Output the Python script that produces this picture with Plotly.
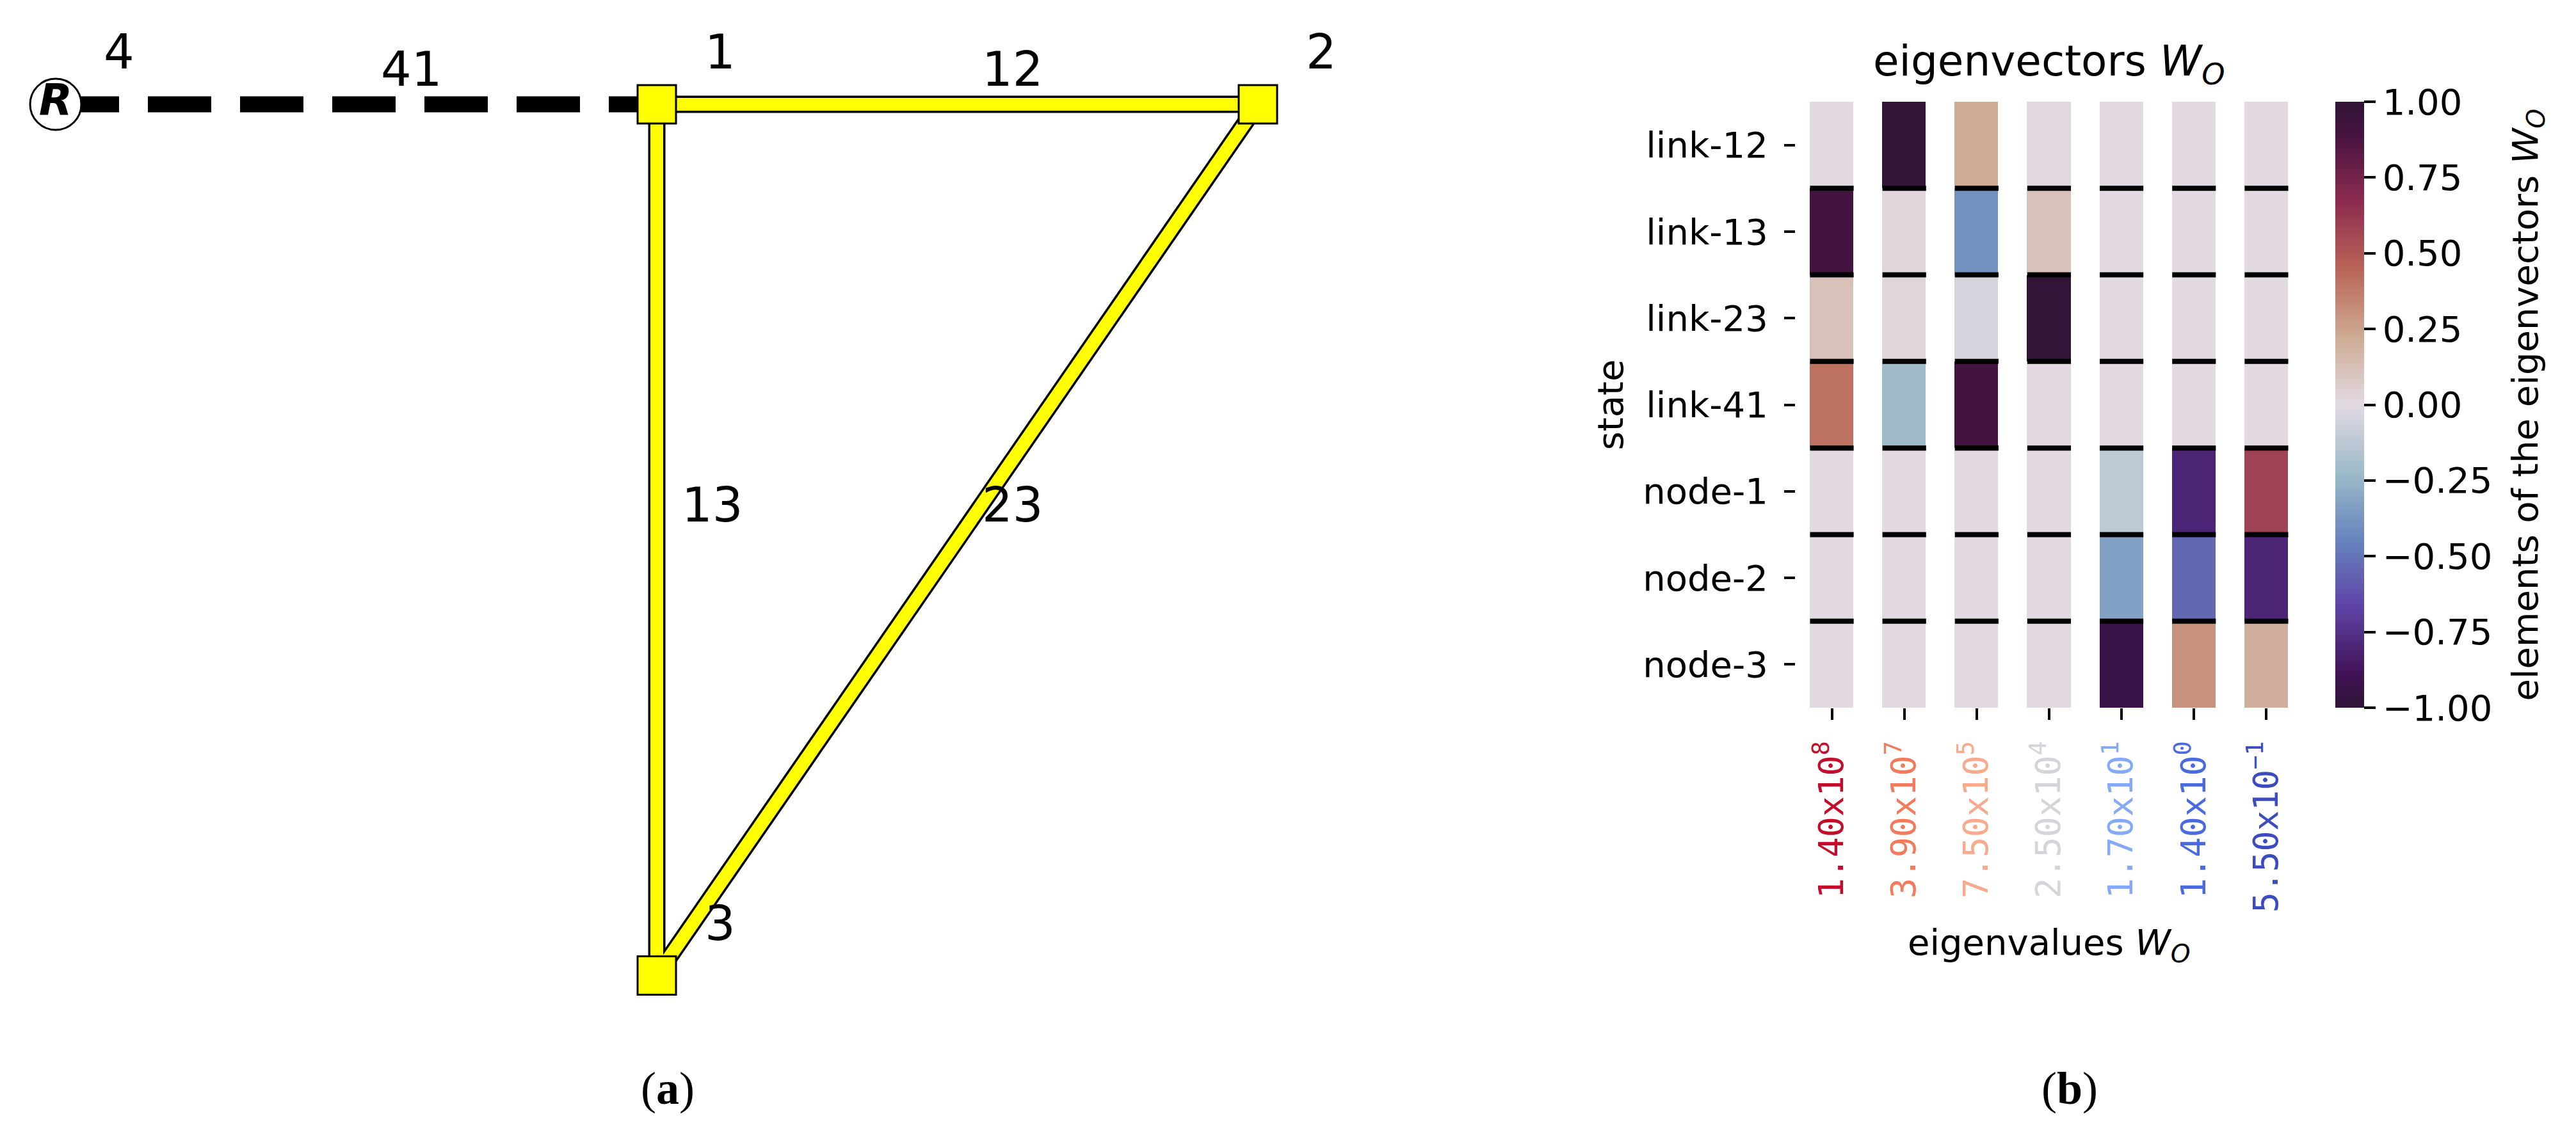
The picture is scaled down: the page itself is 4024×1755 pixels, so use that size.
import plotly.graph_objects as go


#%% Data

# (a) network: node ids with their layout coordinates and the links between them
node_names = ['4', '1', '2', '3']
node_x = [-1.0, 0.0, 1.0, 0.0]
node_y = [0.0, 0.0, 0.0, -1.45]
reference_node = '4'
link_pairs = [('4', '1'), ('1', '2'), ('1', '3'), ('2', '3')]
link_names = ['41', '12', '13', '23']

# (b) eigenvectors of W_O: rows are states, columns are eigenvalues
states = ['link-12', 'link-13', 'link-23', 'link-41', 'node-1', 'node-2', 'node-3']
eigenvalue_text = ['1.40x10<sup>8</sup>', '3.90x10<sup>7</sup>', '7.50x10<sup>5</sup>',
                   '2.50x10<sup>4</sup>', '1.70x10<sup>1</sup>', '1.40x10<sup>0</sup>',
                   '5.50x10<sup>\u22121</sup>']
eigenvalue_colors = ['#c40d2b', '#f27b5b', '#f8aa8c', '#d3d5db', '#84a9f7', '#4a6ae0', '#3b4cc0']
eigenvectors = [
    [0.00, 0.97, 0.22, 0.01, 0.00, 0.00, 0.00],
    [0.90, 0.02, -0.39, 0.12, 0.00, 0.00, 0.00],
    [0.12, 0.02, -0.04, 0.99, 0.00, 0.00, 0.00],
    [0.41, -0.22, 0.90, 0.00, 0.00, 0.00, 0.00],
    [0.00, 0.00, 0.00, 0.00, -0.12, -0.80, 0.58],
    [0.00, 0.00, 0.00, 0.00, -0.33, -0.54, -0.80],
    [0.00, 0.00, 0.00, 0.00, -0.93, 0.30, 0.20],
]
cbar_tickvals = [-1.0, -0.75, -0.5, -0.25, 0.0, 0.25, 0.5, 0.75, 1.0]
cbar_ticktext = ['\u22121.00', '\u22120.75', '\u22120.50', '\u22120.25',
                 '0.00', '0.25', '0.50', '0.75', '1.00']


#%% Geometry (pixels of the 4024 x 1755 page)

W, H = 4024, 1755
NET_SCALE = 939              # px per layout unit
NET_ORIGIN = (1018, 155)     # px position of layout point (0, 0)
HM_LEFT, HM_TOP, HM_RIGHT, HM_BOTTOM = 2797, 151, 3589, 1098
XGAP = 45
CBAR_LEFT, CBAR_WIDTH = 3640, 45

SANS = 'DejaVu Sans'
MONO = 'DejaVu Sans Mono'
SERIF = 'Liberation Serif'

# twilight_shifted
twilight_shifted = [[0.0, '#2f1436'], [0.056, '#421257'], [0.167, '#5e43a5'],
                    [0.278, '#6785be'], [0.389, '#9ebbc9'], [0.5, '#e2d9e2'],
                    [0.611, '#ceac94'], [0.722, '#ba6657'], [0.833, '#8e2c50'],
                    [0.944, '#471340'], [1.0, '#2f1436']]


def px_x(p):
    return p / W


def px_y(p):
    return 1 - p / H


def page_text(x, y, text, size, family=SANS, angle=0):
    '''Text placed in page pixels, centred on (x, y)'''
    fig.add_annotation(x=px_x(x), y=px_y(y), xref='paper', yref='paper',
                       xanchor='center', yanchor='middle', text=text,
                       showarrow=False, textangle=angle,
                       font=dict(family=family, size=size, color='black'))


pos = {n: (x, y) for n, x, y in zip(node_names, node_x, node_y)}

fig = go.Figure()

#%% (a) network

# dashed link to the reference node
for (a, b) in link_pairs:
    if reference_node in (a, b):
        fig.add_trace(go.Scatter(x=[pos[a][0], pos[b][0]], y=[pos[a][1], pos[b][1]],
                                 mode='lines',
                                 line=dict(color='black', width=25, dash='99px,45px'),
                                 hoverinfo='skip', showlegend=False))

lx, ly = [], []
for (a, b) in link_pairs:
    if reference_node in (a, b):
        continue
    lx += [pos[a][0], pos[b][0], None]
    ly += [pos[a][1], pos[b][1], None]

fig.add_trace(go.Scatter(x=lx, y=ly, mode='lines',
                         line=dict(color='black', width=27),
                         hoverinfo='skip', showlegend=False))
fig.add_trace(go.Scatter(x=lx, y=ly, mode='lines',
                         line=dict(color='#ffff00', width=20),
                         hoverinfo='skip', showlegend=False))

plain = [n for n in node_names if n != reference_node]
fig.add_trace(go.Scatter(x=[pos[n][0] for n in plain], y=[pos[n][1] for n in plain],
                         mode='markers',
                         marker=dict(symbol='square', size=60, color='#ffff00',
                                     line=dict(color='black', width=3)),
                         hoverinfo='skip', showlegend=False))

fig.add_trace(go.Scatter(x=[pos[reference_node][0]], y=[pos[reference_node][1]],
                         mode='markers+text', text=['<b><i>R</i></b>'],
                         textposition='middle center',
                         textfont=dict(family=SANS, size=68, color='black'),
                         marker=dict(symbol='circle', size=80, color='white',
                                     line=dict(color='black', width=3)),
                         hoverinfo='skip', showlegend=False))

for n in node_names:
    fig.add_annotation(x=pos[n][0], y=pos[n][1], xref='x', yref='y', text=n,
                       xanchor='center', yanchor='middle',
                       showarrow=False, xshift=99, yshift=82,
                       font=dict(family=SANS, size=75, color='black'))

for (a, b), name in zip(link_pairs, link_names):
    mx = (pos[a][0] + pos[b][0]) / 2
    my = (pos[a][1] + pos[b][1]) / 2
    fig.add_annotation(x=mx, y=my, xref='x', yref='y', text=name,
                       xanchor='center', yanchor='middle',
                       showarrow=False, xshift=86, yshift=55,
                       font=dict(family=SANS, size=75, color='black'))

#%% (b) heatmap

ncol = len(eigenvalue_text)
nrow = len(states)
fig.add_trace(go.Heatmap(z=eigenvectors, x=list(range(ncol)), y=list(range(nrow)),
                         xaxis='x2', yaxis='y2',
                         colorscale=twilight_shifted, zmin=-1, zmax=1, xgap=XGAP,
                         hoverinfo='skip',
                         colorbar=dict(x=px_x(CBAR_LEFT), xanchor='left', xpad=0,
                                       y=px_y((HM_TOP + HM_BOTTOM) / 2), yanchor='middle',
                                       ypad=0,
                                       len=(HM_BOTTOM - HM_TOP) / H, lenmode='fraction',
                                       thickness=CBAR_WIDTH, thicknessmode='pixels',
                                       outlinewidth=0, ticks='outside', ticklen=18,
                                       tickwidth=4, tickcolor='black',
                                       tickvals=cbar_tickvals, ticktext=cbar_ticktext,
                                       tickfont=dict(family=SANS, size=56, color='black'))))

# black separators between the rows of every column
col_px = (HM_RIGHT - HM_LEFT) / ncol
half = 0.5 * (1 - XGAP / col_px)
sx, sy = [], []
for c in range(ncol):
    for r in range(1, nrow):
        sx += [c - half, c + half, None]
        sy += [r - 0.5, r - 0.5, None]
fig.add_trace(go.Scatter(x=sx, y=sy, xaxis='x2', yaxis='y2', mode='lines',
                         line=dict(color='black', width=8),
                         hoverinfo='skip', showlegend=False))

tick_labels = [f"<span style='color:{c}'>{t}</span>"
               for t, c in zip(eigenvalue_text, eigenvalue_colors)]

fig.update_layout(
    width=W, height=H,
    margin=dict(l=0, r=0, t=0, b=0),
    paper_bgcolor='white', plot_bgcolor='white',
    showlegend=False,
    xaxis=dict(domain=[0, 1], range=[-NET_ORIGIN[0] / NET_SCALE, (W - NET_ORIGIN[0]) / NET_SCALE],
               visible=False),
    yaxis=dict(domain=[0, 1], range=[(NET_ORIGIN[1] - H) / NET_SCALE, NET_ORIGIN[1] / NET_SCALE],
               visible=False),
    xaxis2=dict(domain=[px_x(HM_LEFT), px_x(HM_RIGHT)], anchor='y2',
                range=[-0.5, ncol - 0.5], tickvals=list(range(ncol)), ticktext=tick_labels,
                tickangle=-90, ticks='outside', ticklen=18, tickwidth=4, tickcolor='black',
                ticklabelstandoff=12,
                showgrid=False, zeroline=False, showline=False,
                tickfont=dict(family=MONO, size=53)),
    yaxis2=dict(domain=[px_y(HM_BOTTOM), px_y(HM_TOP)], anchor='x2',
                range=[nrow - 0.5, -0.5], tickvals=list(range(nrow)), ticktext=states,
                ticks='outside', ticklen=17, tickwidth=4, tickcolor='black',
                ticklabelstandoff=14,
                showgrid=False, zeroline=False, showline=False,
                tickfont=dict(family=SANS, size=56, color='black')),
)

hm_mid_x = (HM_LEFT + HM_RIGHT) / 2
hm_mid_y = (HM_TOP + HM_BOTTOM) / 2

# titles
page_text(hm_mid_x, 92, 'eigenvectors <i>W</i><sub><i>O</i></sub>', 66)
page_text(hm_mid_x, 1468, 'eigenvalues <i>W</i><sub><i>O</i></sub>', 56)
page_text(2507, hm_mid_y, 'state', 56, angle=-90)
page_text(3940, hm_mid_y, 'elements of the eigenvectors <i>W</i><sub><i>O</i></sub>', 56, angle=-90)

# panel captions
page_text(1035, 1693, '(<b>a</b>)', 72, family=SERIF)
page_text(3225, 1693, '(<b>b</b>)', 72, family=SERIF)

fig.write_html('out.html')
